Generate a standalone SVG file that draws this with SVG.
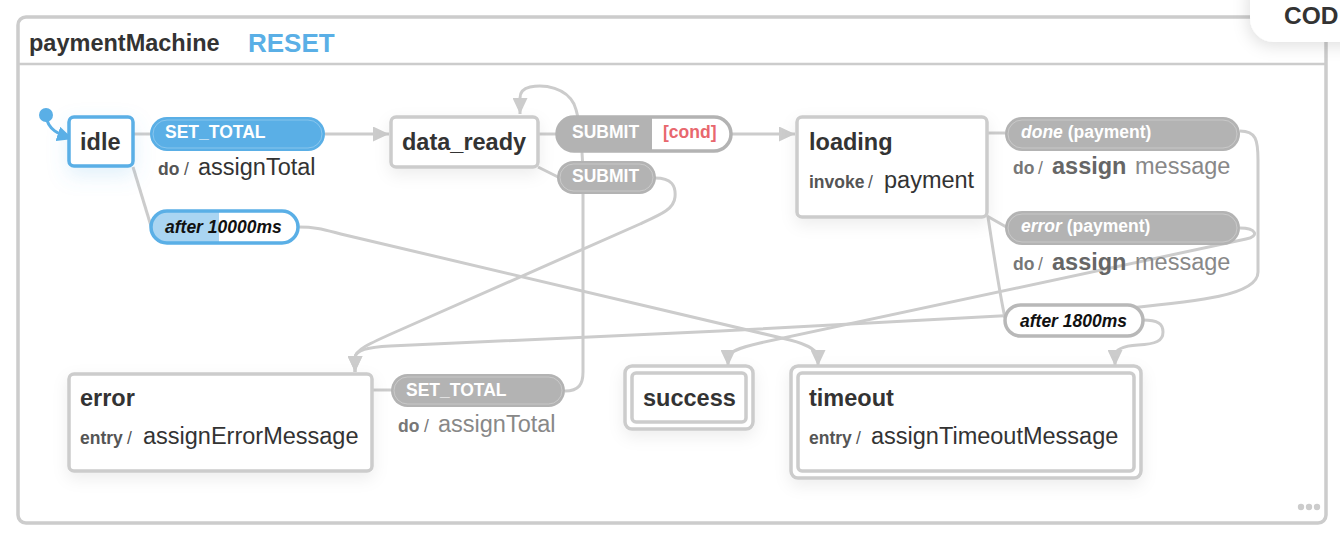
<svg xmlns="http://www.w3.org/2000/svg" width="1340" height="536" viewBox="0 0 1340 536">
<defs>
<style>
text{font-family:"Liberation Sans",Arial,Helvetica,sans-serif}
.t{font-size:23.5px;font-weight:bold;fill:#333}
.node{fill:#fff;stroke:#ccc;stroke-width:3.5}
.edge{fill:none;stroke:#ccc;stroke-width:3}
.grey{fill:#b3b3b3}
.inner{fill:none;stroke:#fff;stroke-opacity:0.28;stroke-width:1}
.pl{font-size:17.5px;font-weight:bold;fill:#fff}
.k{font-size:17.5px;font-weight:bold;fill:#555}
.s{font-size:17.5px;fill:#555}
.v{font-size:23.5px;fill:#333}
.ki{font-size:17.5px;font-weight:bold;fill:#777}
.si{font-size:17.5px;fill:#777}
.vi{font-size:23.5px;fill:#888}
.bi{font-size:23.5px;font-weight:bold;fill:#666}
.after{font-size:17.5px;font-weight:bold;font-style:italic;fill:#111}
</style>
<marker id="ah" markerUnits="userSpaceOnUse" viewBox="0 0 16 15" markerWidth="16" markerHeight="15" refX="16" refY="7.5" orient="auto"><path d="M0,0 L16,7.5 L0,15 z" fill="#ccc"/></marker>
<marker id="ahb" markerUnits="userSpaceOnUse" viewBox="0 0 16 15" markerWidth="16" markerHeight="15" refX="16" refY="7.5" orient="auto"><path d="M0,0 L16,7.5 L0,15 z" fill="#5aafe6"/></marker>
<filter id="sh" x="-30%" y="-30%" width="160%" height="190%"><feDropShadow dx="0" dy="6" stdDeviation="8" flood-color="#000" flood-opacity="0.07"/></filter>
<filter id="shb" x="-40%" y="-40%" width="180%" height="200%"><feDropShadow dx="0" dy="8" stdDeviation="10" flood-color="#5aafe6" flood-opacity="0.18"/></filter>
<filter id="sh2" x="-40%" y="-60%" width="180%" height="220%"><feDropShadow dx="-2" dy="4" stdDeviation="8" flood-color="#000" flood-opacity="0.12"/></filter>
</defs>
<rect width="1340" height="536" fill="#fff"/>

<g id="machine">
<rect x="18" y="17" width="1308" height="506" rx="8" fill="#fff" stroke="#ccc" stroke-width="3.5"/>
<line x1="18" y1="64" x2="1326" y2="64" stroke="#ccc" stroke-width="2.5"/>
<text x="29" y="51" class="t" font-size="23.8">paymentMachine</text>
<text x="248" y="52" font-size="26" font-weight="bold" fill="#5aafe6">RESET</text>
<circle cx="1301" cy="507" r="3.2" fill="#ccc"/>
<circle cx="1309" cy="507" r="3.2" fill="#ccc"/>
<circle cx="1317" cy="507" r="3.2" fill="#ccc"/>
</g>

<g id="edges">
<path d="M46,116 C48,130 58,134 73,139" fill="none" stroke="#5aafe6" stroke-width="3" marker-end="url(#ahb)"/>
<path class="edge" d="M133,134 H151"/>
<path class="edge" d="M325,134 H389" marker-end="url(#ah)"/>
<path class="edge" d="M538,134 H557"/>
<path class="edge" d="M731,134 H795" marker-end="url(#ah)"/>
<path class="edge" d="M538,167 L560,178"/>
<path class="edge" d="M655,178 C672,178 676,186 675,197 C674,209 662,214 640,224 L400,330 C368,344 355,350 355,358 L355,372" marker-end="url(#ah)"/>
<path class="edge" d="M133,167 L151,226"/>
<path class="edge" d="M298,227 C318,227 325,230 345,235 L790,340 C810,345 818,352 818,358 L818,366" marker-end="url(#ah)"/>
<path class="edge" d="M372,390 H392"/>
<path class="edge" d="M565,391 C579,391 583,384 583,372 L583,190 C583,150 580,118 574,104 C566,88 545,84 530,87 C521,89 520,94 520,98 L520,114" marker-end="url(#ah)"/>
<path class="edge" d="M987,133 H1005"/>
<path class="edge" d="M987,216 L1008,228"/>
<path class="edge" d="M988,217 C993,250 1000,295 1005,318"/>
<path class="edge" d="M1143,320 C1158,320 1163,324 1163,332 C1163,341 1156,344 1138,345 C1122,346 1115,350 1115,356 L1115,366" marker-end="url(#ah)"/>
<path class="edge" d="M1240,131 C1256,131 1258,140 1258,160 L1258,272 C1258,297 1190,302 1110,310 L720,331 L390,346 C366,347 355,351 355,358 L355,372" marker-end="url(#ah)"/>
<path class="edge" d="M1240,228 C1256,228 1260,236 1246,239 L760,343 C738,348 728,352 728,358 L728,366" marker-end="url(#ah)"/>
</g>

<g id="idle">
<circle cx="46" cy="115" r="7" fill="#5aafe6"/>
<rect x="69" y="117" width="64" height="49" rx="5" fill="#fff" stroke="#5aafe6" stroke-width="3.5" filter="url(#shb)"/>
<text x="80" y="150" class="t">idle</text>
</g>

<g id="t-idle-set-total">
<rect x="150" y="117" width="175" height="34" rx="17" fill="#5aafe6"/>
<rect x="153" y="120" width="169" height="28" rx="14" class="inner"/>
<text x="165" y="138" class="pl" font-size="17">SET_TOTAL</text>
<text x="158" y="175" class="k">do</text>
<text x="184" y="175" class="s">/</text>
<text x="198" y="175" class="v">assignTotal</text>
</g>

<g id="t-idle-after">
<rect x="151" y="211" width="147" height="32" rx="16" fill="#fff"/>
<path d="M167,211 H219 V243 H167 A16,16 0 0 1 167,211 Z" fill="#aad5f2"/>
<rect x="151" y="211" width="147" height="32" rx="16" fill="none" stroke="#5aafe6" stroke-width="3.5"/>
<text x="165" y="233" class="after" font-size="17.8">after 10000ms</text>
</g>

<g id="data_ready">
<rect x="391" y="117" width="147" height="50" rx="5" class="node" filter="url(#sh)"/>
<text x="402" y="150" class="t">data_ready</text>
</g>

<g id="t-submit-cond">
<rect x="557" y="117" width="174" height="34" rx="17" fill="#fff" stroke="#b3b3b3" stroke-width="3.5"/>
<path d="M574,117 H652 V151 H574 A17,17 0 0 1 574,117 Z" class="grey"/>
<text x="572" y="138" class="pl">SUBMIT</text>
<text x="663" y="138" font-size="17.5" font-weight="bold" fill="#e8686e">[cond]</text>
</g>

<g id="t-submit">
<rect x="557" y="161" width="99" height="33" rx="16.5" class="grey"/>
<rect x="560" y="164" width="93" height="27" rx="13.5" class="inner"/>
<text x="572" y="182" class="pl">SUBMIT</text>
</g>

<g id="loading">
<rect x="797" y="117" width="190" height="100" rx="5" class="node" filter="url(#sh)"/>
<text x="809" y="150" class="t">loading</text>
<text x="809" y="188" class="k">invoke</text>
<text x="868" y="188" class="s">/</text>
<text x="884" y="188" class="v">payment</text>
</g>

<g id="t-done">
<rect x="1005" y="117" width="235" height="34" rx="17" class="grey"/>
<rect x="1008" y="120" width="229" height="28" rx="14" class="inner"/>
<text x="1021" y="138" class="pl"><tspan font-style="italic">done</tspan> (payment)</text>
<text x="1013" y="174" class="ki">do</text>
<text x="1038" y="174" class="si">/</text>
<text x="1052" y="174" class="bi">assign</text>
<text x="1135" y="174" class="vi">message</text>
</g>

<g id="t-error">
<rect x="1005" y="211" width="235" height="34" rx="17" class="grey"/>
<rect x="1008" y="214" width="229" height="28" rx="14" class="inner"/>
<text x="1021" y="232" class="pl"><tspan font-style="italic">error</tspan> (payment)</text>
<text x="1013" y="270" class="ki">do</text>
<text x="1038" y="270" class="si">/</text>
<text x="1052" y="270" class="bi">assign</text>
<text x="1135" y="270" class="vi">message</text>
</g>

<g id="t-after-1800">
<rect x="1005" y="305" width="138" height="31" rx="15.5" fill="#fff" stroke="#b8b8b8" stroke-width="3.5"/>
<text x="1020" y="327" class="after">after 1800ms</text>
</g>

<g id="error">
<rect x="69" y="374" width="303" height="97" rx="5" class="node" filter="url(#sh)"/>
<text x="80" y="406" class="t">error</text>
<text x="80" y="444" class="k">entry</text>
<text x="127" y="444" class="s">/</text>
<text x="143" y="444" class="v">assignErrorMessage</text>
</g>

<g id="t-error-set-total">
<rect x="391" y="374" width="174" height="33" rx="16.5" class="grey"/>
<rect x="394" y="377" width="168" height="27" rx="13.5" class="inner"/>
<text x="406" y="396" class="pl" font-size="17">SET_TOTAL</text>
<text x="398" y="432" class="ki">do</text>
<text x="424" y="432" class="si">/</text>
<text x="438" y="432" class="vi">assignTotal</text>
</g>

<g id="success">
<rect x="625" y="366" width="128" height="63" rx="7" class="node" filter="url(#sh)"/>
<rect x="632" y="373" width="114" height="49" rx="4" class="node"/>
<text x="643" y="406" class="t">success</text>
</g>

<g id="timeout">
<rect x="791" y="366" width="350" height="112" rx="7" class="node" filter="url(#sh)"/>
<rect x="798" y="373" width="336" height="98" rx="4" class="node"/>
<text x="809" y="406" class="t">timeout</text>
<text x="809" y="444" class="k">entry</text>
<text x="856" y="444" class="s">/</text>
<text x="871" y="444" class="v">assignTimeoutMessage</text>
</g>

<g id="code-panel">
<rect x="1250" y="-30" width="140" height="72" rx="24" fill="#fff" filter="url(#sh2)"/>
<text x="1284" y="24" font-size="24.5" font-weight="bold" fill="#333">COD</text>
</g>
</svg>
